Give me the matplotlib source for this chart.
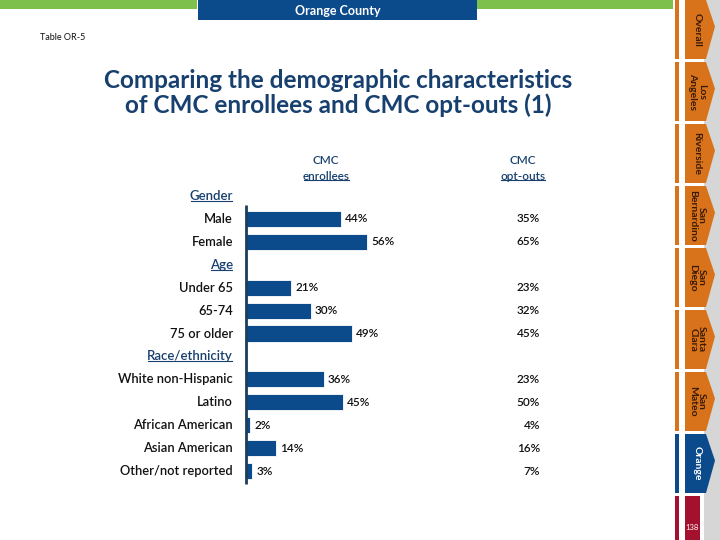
import matplotlib
matplotlib.use("Agg")
import matplotlib.pyplot as plt
from matplotlib.patches import Rectangle, Polygon
from matplotlib.transforms import blended_transform_factory

plt.rcParams["font.family"] = ["Lato", "DejaVu Sans"]

# ---- data ----
GROUPS = ["Gender", "Age", "Race/ethnicity"]
GROUP_ROWS = [
    ["Male", "Female"],
    ["Under 65", "65-74", "75 or older"],
    ["White non-Hispanic", "Latino", "African American", "Asian American", "Other/not reported"],
]
ENROLLEES = [44, 56, 21, 30, 49, 36, 45, 2, 14, 3]
OPT_OUTS = [35, 65, 23, 32, 45, 23, 50, 4, 16, 7]

TABS = ["Overall", "Los\nAngeles", "Riverside", "San\nBernardino", "San\nDiego",
        "Santa\nClara", "San\nMateo", "Orange"]

BAR_BLUE = "#0b4a8b"
TITLE_BLUE = "#17406f"
TAB_ORANGE = "#d8731b"
GREEN = "#7dc04b"
RED = "#a3112e"

W, H = 720, 540
fig = plt.figure(figsize=(7.2, 5.4), dpi=100)

# pixel-space overlay for page decorations and text
deco = fig.add_axes([0, 0, 1, 1], zorder=0)
deco.set_xlim(0, W)
deco.set_ylim(H, 0)
deco.axis("off")

# top banner
deco.add_patch(Rectangle((0, 0), 197, 9, color=GREEN, lw=0))
deco.add_patch(Rectangle((477, 0), 196, 9, color=GREEN, lw=0))
deco.add_patch(Rectangle((198, 0), 279, 20, color=BAR_BLUE, lw=0))
deco.text(338, 11, "Orange County", color="white", fontsize=9, fontweight="bold",
          ha="center", va="center")
deco.text(40, 38, "Table OR-5", fontsize=6.5, ha="left", va="center", color="#111111")

# right navigation strip
deco.add_patch(Rectangle((704, 0), 16, H, color="#d6d6d6", lw=0))
tab_h = 62
for i, name in enumerate(TABS):
    y0 = i * tab_h
    y1 = y0 + tab_h - 3
    col = BAR_BLUE if name == "Orange" else TAB_ORANGE
    deco.add_patch(Rectangle((675, y0), 4, y1 - y0, color=col, lw=0))
    deco.add_patch(Polygon([(685, y0), (706, y0), (715, y0 + (y1 - y0) * 0.45),
                            (706, y1), (685, y1)], closed=True, color=col, lw=0))
    deco.text(697, (y0 + y1) / 2, name, rotation=-90, ha="center", va="center",
              fontsize=7.5, fontweight="bold", linespacing=0.95,
              color="white" if name == "Orange" else "#3a1a05")
py0 = len(TABS) * tab_h
deco.add_patch(Rectangle((675, py0), 4, H - py0, color=RED, lw=0))
deco.add_patch(Rectangle((685, py0), 15, H - py0, color=RED, lw=0))
deco.text(692, 527, "138", color="white", fontsize=5.5, ha="center", va="center")

# title
deco.text(338, 93, "Comparing the demographic characteristics\nof CMC enrollees and CMC opt-outs (1)",
          ha="center", va="center", fontsize=17.5, fontweight="bold", color=TITLE_BLUE,
          linespacing=1.05)

# column headers
underline_texts = []
deco.text(326, 161, "CMC", ha="center", va="center", fontsize=8.5, color=TITLE_BLUE,
          fontweight="semibold")
underline_texts.append(deco.text(326, 176, "enrollees", ha="center", va="center",
                                 fontsize=8.5, color=TITLE_BLUE, fontweight="semibold"))
deco.text(523, 161, "CMC", ha="center", va="center", fontsize=8.5, color=TITLE_BLUE,
          fontweight="semibold")
underline_texts.append(deco.text(523, 176, "opt-outs", ha="center", va="center",
                                 fontsize=8.5, color=TITLE_BLUE, fontweight="semibold"))

# ---- bar chart ----
ax = fig.add_axes([246 / W, 1 - 482.5 / H, 216 / W, 298 / H], zorder=1)
ax.set_xlim(0, 100)
ax.set_ylim(12.5, -0.5)
ax.axis("off")
ax.patch.set_alpha(0)

label_x = 233 / W
optout_x = 540 / W
tr = blended_transform_factory(fig.transFigure, ax.transData)

slot = 0
k = 0
for g, rows in zip(GROUPS, GROUP_ROWS):
    underline_texts.append(ax.text(label_x, slot, g, transform=tr, ha="right", va="center",
                                   fontsize=9.5, color=TITLE_BLUE, fontweight="semibold"))
    slot += 1
    for r in rows:
        ax.barh(slot, ENROLLEES[k], height=0.7, color=BAR_BLUE, edgecolor="white", lw=0.6)
        ax.annotate(f"{ENROLLEES[k]}%", (ENROLLEES[k], slot), xytext=(3, 0),
                    textcoords="offset points", ha="left", va="center", fontsize=8.5,
                    color="#111111", fontweight="semibold")
        ax.text(label_x, slot, r, transform=tr, ha="right", va="center", fontsize=9.3,
                color="#111111", fontweight="semibold")
        ax.text(optout_x, slot, f"{OPT_OUTS[k]}%", transform=tr, ha="right", va="center",
                fontsize=8.5, color="#111111", fontweight="semibold")
        slot += 1
        k += 1

ax.plot([0, 0], [0.4, 12.55], color="#1d3d5c", lw=2, solid_capstyle="butt", clip_on=False)

# underline selected texts
fig.canvas.draw()
inv = fig.transFigure.inverted()
for t in underline_texts:
    bb = t.get_window_extent()
    (x0, y0), (x1, _) = inv.transform([(bb.x0 + 1, bb.y0), (bb.x1 - 1, bb.y1)])
    fig.add_artist(plt.Line2D([x0, x1], [y0 + 0.002, y0 + 0.002], color=TITLE_BLUE,
                              lw=0.8, transform=fig.transFigure))

fig.savefig("out.png", dpi=100)
